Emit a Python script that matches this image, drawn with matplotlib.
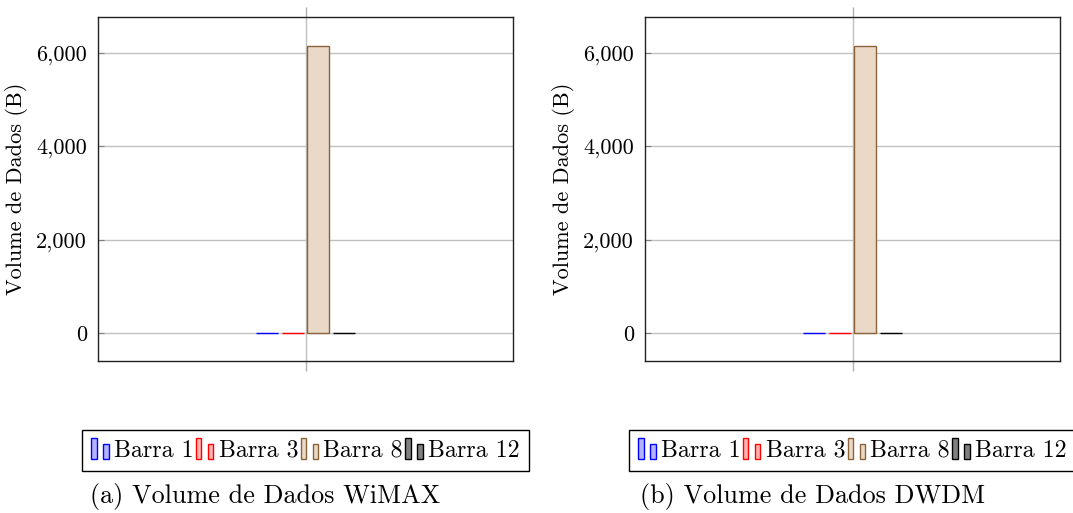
import matplotlib
matplotlib.use("Agg")
import matplotlib.pyplot as plt
import numpy as np
from matplotlib.patches import Rectangle
from matplotlib.legend_handler import HandlerBase
from matplotlib.ticker import FuncFormatter

plt.rcParams["font.family"] = "serif"
plt.rcParams["font.serif"] = ["cmr10"]
plt.rcParams["axes.formatter.use_mathtext"] = True
plt.rcParams["mathtext.fontset"] = "cm"

barras = ["Barra 1", "Barra 3", "Barra 8", "Barra 12"]
volume_wimax = [8, 6, 6150, 5]
volume_dwdm = [8, 6, 6150, 5]
legendas = ["(a) Volume de Dados WiMAX", "(b) Volume de Dados DWDM"]

faces = ["#b3b3ff", "#ffb3b3", "#ead9c6", "#808080"]
edges = ["#0000ff", "#ff0000", "#8c6239", "#000000"]


class HandlerDuasBarras(HandlerBase):
    # pgfplots-style ybar legend: two little bars
    def create_artists(self, legend, orig, xdescent, ydescent, width, height, fontsize, trans):
        fc = orig.get_facecolor()
        ec = orig.get_edgecolor()
        w = width * 0.3
        y0 = -ydescent - height * 0.1
        h = height * 1.15
        r1 = Rectangle((-xdescent, y0), w, h, facecolor=fc, edgecolor=ec, lw=1, transform=trans)
        r2 = Rectangle((-xdescent + width * 0.67, y0), w, h * 0.75, facecolor=fc, edgecolor=ec, lw=1, transform=trans)
        return [r1, r2]


fig = plt.figure(figsize=(10.73, 5.13), dpi=100)
lefts = [98 / 1073, 645 / 1073]
dados = [volume_wimax, volume_dwdm]
cap_x = [90 / 1073, 640 / 1073]

x = np.arange(len(barras)) - 1.5
largura = 22 / 415
passo = 25.5 / 415

for i in range(2):
    ax = fig.add_axes([lefts[i], 0.2963, 415 / 1073, 0.6706])
    handles = []
    for j in range(len(barras)):
        b = ax.bar(x[j] * passo, dados[i][j], width=largura, color=faces[j],
                   edgecolor=edges[j], linewidth=1, zorder=3, label=barras[j])
        handles.append(b.patches[0])
    ax.set_xlim(-0.5, 0.5)
    ax.set_ylim(-600, 6770)
    ax.set_yticks([0, 2000, 4000, 6000])
    ax.yaxis.set_major_formatter(FuncFormatter(lambda v, p: f"{v:,.0f}"))
    ax.set_xticks([0])
    ax.set_xticklabels([])
    ax.grid(True, color="#c0c0c0", linewidth=1, zorder=0)
    ax.tick_params(axis="x", direction="out", length=7, color="#b0b0b0", top=True, width=1)
    ax.tick_params(axis="y", direction="in", length=4, color="#808080", labelsize=16, pad=8)
    for s in ax.spines.values():
        s.set_color("#222222")
        s.set_linewidth(1)
    ax.set_ylabel("Volume de Dados (B)", fontsize=16, labelpad=6)
    leg = ax.legend(handles, barras, loc="upper center", bbox_to_anchor=(0.5, -0.2), ncol=4,
                    handler_map={h: HandlerDuasBarras() for h in handles},
                    fontsize=17.2, frameon=True, fancybox=False, framealpha=1,
                    handlelength=0.75, handleheight=0.8, handletextpad=0.2,
                    columnspacing=0.1, borderpad=0.4, borderaxespad=0)
    leg.get_frame().set_edgecolor("black")
    leg.get_frame().set_linewidth(1)
    fig.text(cap_x[i], 1 - 497 / 513, legendas[i], fontsize=18.8, va="center", ha="left")

fig.savefig("out.png", dpi=100)
